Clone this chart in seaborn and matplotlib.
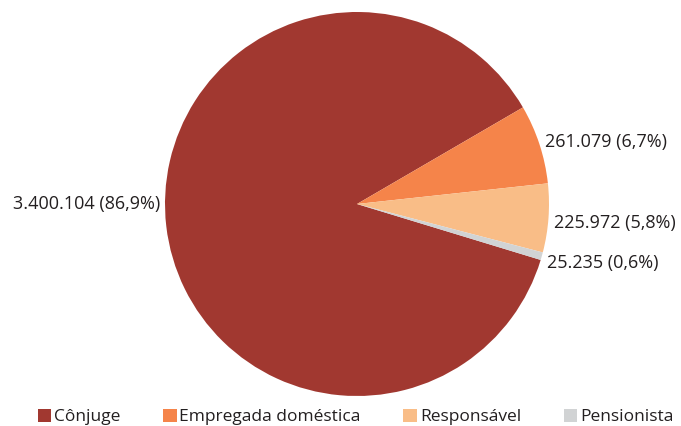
import matplotlib
matplotlib.use('Agg')
import matplotlib.pyplot as plt
import seaborn as sns
from matplotlib.patches import Patch

# Dados
categorias = ['Cônjuge', 'Empregada doméstica', 'Responsável', 'Pensionista']
valores = [3400104, 261079, 225972, 25235]
rotulos = ['3.400.104 (86,9%)', '261.079 (6,7%)', '225.972 (5,8%)', '25.235 (0,6%)']
cores = ['#A13830', '#F5844A', '#F9BD87', '#D1D3D4']

sns.set_theme(style='white')
plt.rcParams['font.family'] = ['Open Sans', 'DejaVu Sans']
cor_texto = '#231F20'

fig = plt.figure(figsize=(6.81, 4.26), dpi=100)
# Eixo do pizza (centro ~ (357,204), raio ~192 px)
ax = fig.add_axes([(357 - 192) / 681, (426 - 204 - 192) / 426, 384 / 681, 384 / 426])

# Início da fatia Cônjuge calculado para que ela termine em ~30 graus
total = sum(valores)
inicio = 30.2 + 360 * valores[0] / total

wedges, textos = ax.pie(valores, colors=cores, labels=rotulos, startangle=inicio,
                        counterclock=False, labeldistance=1.03, radius=1,
                        wedgeprops=dict(linewidth=0),
                        textprops=dict(fontsize=13, color=cor_texto))
for t in textos:
    t.set_clip_on(False)
# Rótulo da Cônjuge centralizado na altura do centro
x0, _ = textos[0].get_position()
textos[0].set_position((x0, 0))
# pequenos ajustes verticais nos rótulos da direita
for t in textos[2:]:
    x, y = t.get_position()
    t.set_position((x, y - 0.025))

ax.set_xlim(-1, 1)
ax.set_ylim(-1, 1)
ax.set_aspect('equal')
ax.axis('off')

# Legenda
handles = [Patch(facecolor=c, edgecolor='none') for c in cores]
fig.legend(handles, categorias, loc='lower center', bbox_to_anchor=(0.522, -0.035), ncol=4,
           frameon=False, fontsize=12.5, handlelength=0.8, handleheight=0.8,
           handletextpad=0.15, columnspacing=2.45, labelcolor=cor_texto)

fig.savefig('out.png', dpi=100)
